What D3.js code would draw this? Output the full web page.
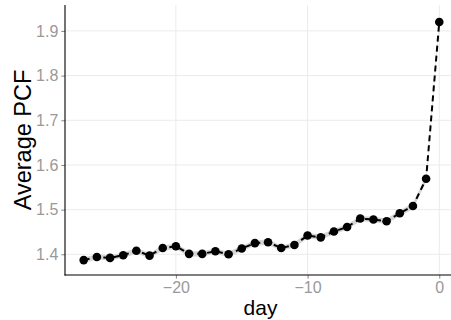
<!DOCTYPE html>
<html>
<head>
<meta charset="utf-8">
<script src="https://cdn.jsdelivr.net/npm/d3@7"></script>
<style>
  body { margin: 0; background: #fff; }
  text { font-family: "Liberation Sans", Arial, sans-serif; }
</style>
</head>
<body>
<svg width="451" height="320"></svg>
<script>
const days = [-27, -26, -25, -24, -23, -22, -21, -20, -19, -18, -17, -16, -15, -14,
  -13, -12, -11, -10, -9, -8, -7, -6, -5, -4, -3, -2, -1, 0];
const pcf = [1.387, 1.394, 1.392, 1.398, 1.408, 1.397, 1.414, 1.418, 1.401, 1.401,
  1.407, 1.400, 1.413, 1.425, 1.427, 1.414, 1.421, 1.442, 1.438, 1.451, 1.461,
  1.480, 1.478, 1.474, 1.492, 1.508, 1.569, 1.920];
const se = [0.006, 0.006, 0.006, 0.006, 0.006, 0.006, 0.006, 0.006, 0.006, 0.006,
  0.006, 0.006, 0.006, 0.006, 0.006, 0.006, 0.006, 0.006, 0.006, 0.006, 0.006,
  0.006, 0.006, 0.006, 0.006, 0.007, 0.007, 0.008];
const xTicks = [-20, -10, 0];
const yTicks = [1.4, 1.5, 1.6, 1.7, 1.8, 1.9];

const svg = d3.select("svg");
const pLeft = 65, pRight = 456, pTop = 5, pBottom = 275;

const data = days.map((d, i) => ({ day: d, v: pcf[i], lo: pcf[i] - se[i], hi: pcf[i] + se[i] }));

const x = d3.scaleLinear().domain([-28.42, 1.27]).range([pLeft, pRight]);
const y = d3.scaleLinear().domain([1.3537, 1.958]).range([pBottom, pTop]);

// grid
const grid = svg.append("g");
grid.selectAll("line.h")
  .data(yTicks)
  .join("line")
  .attr("class", "h")
  .attr("x1", pLeft).attr("x2", pRight)
  .attr("y1", (d) => y(d)).attr("y2", (d) => y(d))
  .attr("stroke", "#ebebeb").attr("stroke-width", 1);
grid.selectAll("line.v")
  .data(xTicks)
  .join("line")
  .attr("class", "v")
  .attr("x1", (d) => x(d)).attr("x2", (d) => x(d))
  .attr("y1", pTop).attr("y2", pBottom)
  .attr("stroke", "#ebebeb").attr("stroke-width", 1);

// ribbon
const area = d3.area()
  .x((d) => x(d.day))
  .y0((d) => y(d.lo))
  .y1((d) => y(d.hi));
svg.append("path")
  .datum(data)
  .attr("d", area)
  .attr("fill", "#d6d6d6");

// line
const line = d3.line().x((d) => x(d.day)).y((d) => y(d.v));
svg.append("path")
  .datum(data)
  .attr("d", line)
  .attr("fill", "none")
  .attr("stroke", "#000")
  .attr("stroke-width", 2)
  .attr("stroke-dasharray", "6,4");

// points
svg.append("g")
  .selectAll("circle")
  .data(data)
  .join("circle")
  .attr("cx", (d) => x(d.day))
  .attr("cy", (d) => y(d.v))
  .attr("r", 4.3)
  .attr("fill", "#000");

// axes
const xAxis = svg.append("g")
  .attr("transform", `translate(0,${pBottom})`)
  .call(d3.axisBottom(x).tickValues(xTicks).tickSize(3.7).tickPadding(3)
    .tickFormat((d) => String(d).replace("-", "\u2212")));
xAxis.select(".domain").remove();
xAxis.selectAll(".tick line").attr("stroke", "#888");
xAxis.selectAll("text").attr("fill", "#999").attr("font-size", 16)
  .attr("font-family", "Liberation Sans, Arial, sans-serif");

const yAxis = svg.append("g")
  .attr("transform", `translate(${pLeft},0)`)
  .call(d3.axisLeft(y).tickValues(yTicks).tickSize(3.7).tickPadding(3)
    .tickFormat(d3.format(".1f")));
yAxis.select(".domain").remove();
yAxis.selectAll(".tick line").attr("stroke", "#888");
yAxis.selectAll("text").attr("fill", "#999").attr("font-size", 16)
  .attr("font-family", "Liberation Sans, Arial, sans-serif");

// axis lines
svg.append("line")
  .attr("x1", pLeft).attr("x2", pLeft)
  .attr("y1", pTop).attr("y2", pBottom + 0.5)
  .attr("stroke", "#000").attr("stroke-width", 1.1);
svg.append("line")
  .attr("x1", pLeft - 0.5).attr("x2", pRight)
  .attr("y1", pBottom).attr("y2", pBottom)
  .attr("stroke", "#000").attr("stroke-width", 1.1);

// titles
svg.append("text")
  .attr("x", (pLeft + pRight) / 2)
  .attr("y", 315)
  .attr("text-anchor", "middle")
  .attr("font-size", 21)
  .attr("fill", "#000")
  .text("day");
svg.append("text")
  .attr("transform", `translate(31,${(pTop + pBottom) / 2}) rotate(-90)`)
  .attr("text-anchor", "middle")
  .attr("font-size", 23.5)
  .attr("fill", "#000")
  .text("Average PCF");
</script>
</body>
</html>
